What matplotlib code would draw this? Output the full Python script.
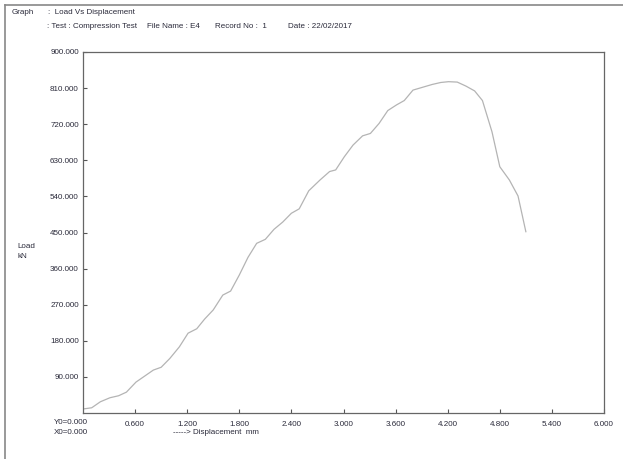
import matplotlib
matplotlib.use("Agg")
import matplotlib.pyplot as plt
from matplotlib.lines import Line2D

# load vs displacement readings (mm, kN)
disp = [0.00, 0.10, 0.20, 0.31, 0.41, 0.50, 0.61, 0.71, 0.81, 0.90, 1.00,
        1.11, 1.21, 1.31, 1.40, 1.50, 1.61, 1.70, 1.80, 1.90, 2.00, 2.10,
        2.20, 2.30, 2.40, 2.49, 2.60, 2.73, 2.84, 2.91, 3.01, 3.11, 3.22,
        3.31, 3.41, 3.51, 3.61, 3.70, 3.80, 3.91, 4.02, 4.12, 4.21, 4.31,
        4.41, 4.51, 4.60, 4.71, 4.80, 4.91, 5.01, 5.10]
load = [10, 13, 28, 38, 43, 52, 77, 92, 107, 114, 136,
        165, 199, 210, 234, 257, 294, 304, 344, 388, 423, 433,
        458, 476, 498, 509, 554, 581, 602, 606, 639, 668, 691,
        697, 722, 754, 768, 779, 805, 812, 819, 824, 826, 825,
        815, 803, 779, 701, 614, 581, 541, 452]

xticks = [0.6, 1.2, 1.8, 2.4, 3.0, 3.6, 4.2, 4.8, 5.4, 6.0]
yticks = [90, 180, 270, 360, 450, 540, 630, 720, 810, 900]

W, H = 623, 459
txt = "#2a2a3a"
fs = 5.8
plt.rcParams["font.family"] = ["Liberation Sans", "DejaVu Sans"]

fig = plt.figure(figsize=(W / 100, H / 100), dpi=100)


def px(x, y):
    return x / W, 1 - y / H


# outer border (top and left)
fig.add_artist(Line2D([4.5 / W, 1], [1 - 4.5 / H, 1 - 4.5 / H], color="#888888", lw=1.2))
fig.add_artist(Line2D([4.5 / W, 4.5 / W], [0, 1 - 4.5 / H], color="#888888", lw=1.2))

ax = fig.add_axes([83 / W, (H - 413) / H, (604 - 83) / W, (413 - 52) / H])
ax.plot(disp, load, color="#b4b4b4", lw=0.9)
ax.set_xlim(0, 6.0)
ax.set_ylim(0, 900)
ax.set_xticks(xticks)
ax.set_yticks(yticks)
ax.set_xticklabels([f"{v:.3f}" for v in xticks])
ax.set_yticklabels([f"{v:.3f}" for v in yticks])
ax.tick_params(direction="in", length=3, width=0.8, color="#555555",
               labelsize=fs, labelcolor=txt)
ax.tick_params(axis="x", pad=6)
ax.tick_params(axis="y", pad=3)
for s in ax.spines.values():
    s.set_color("#666666")
    s.set_linewidth(0.9)

# header
fig.text(*px(12, 12), "Graph", fontsize=fs, color=txt, va="center")
fig.text(*px(48, 12), ":  Load Vs Displacement", fontsize=fs, color=txt, va="center")
fig.text(*px(47, 26), ": Test : Compression Test", fontsize=fs, color=txt, va="center")
fig.text(*px(147, 26), "File Name : E4", fontsize=fs, color=txt, va="center")
fig.text(*px(215, 26), "Record No :  1", fontsize=fs, color=txt, va="center")
fig.text(*px(288, 26), "Date : 22/02/2017", fontsize=fs, color=txt, va="center")

# axis captions
fig.text(*px(17, 247), "Load", fontsize=fs, color=txt, va="center")
fig.text(*px(17, 257), "kN", fontsize=fs, color=txt, va="center")
fig.text(*px(54, 423), "Y0=0.000", fontsize=fs, color=txt, va="center")
fig.text(*px(54, 433), "X0=0.000", fontsize=fs, color=txt, va="center")
fig.text(*px(173, 433), "-----> Displacement  mm", fontsize=fs, color=txt, va="center")

fig.savefig("out.png", dpi=100)
